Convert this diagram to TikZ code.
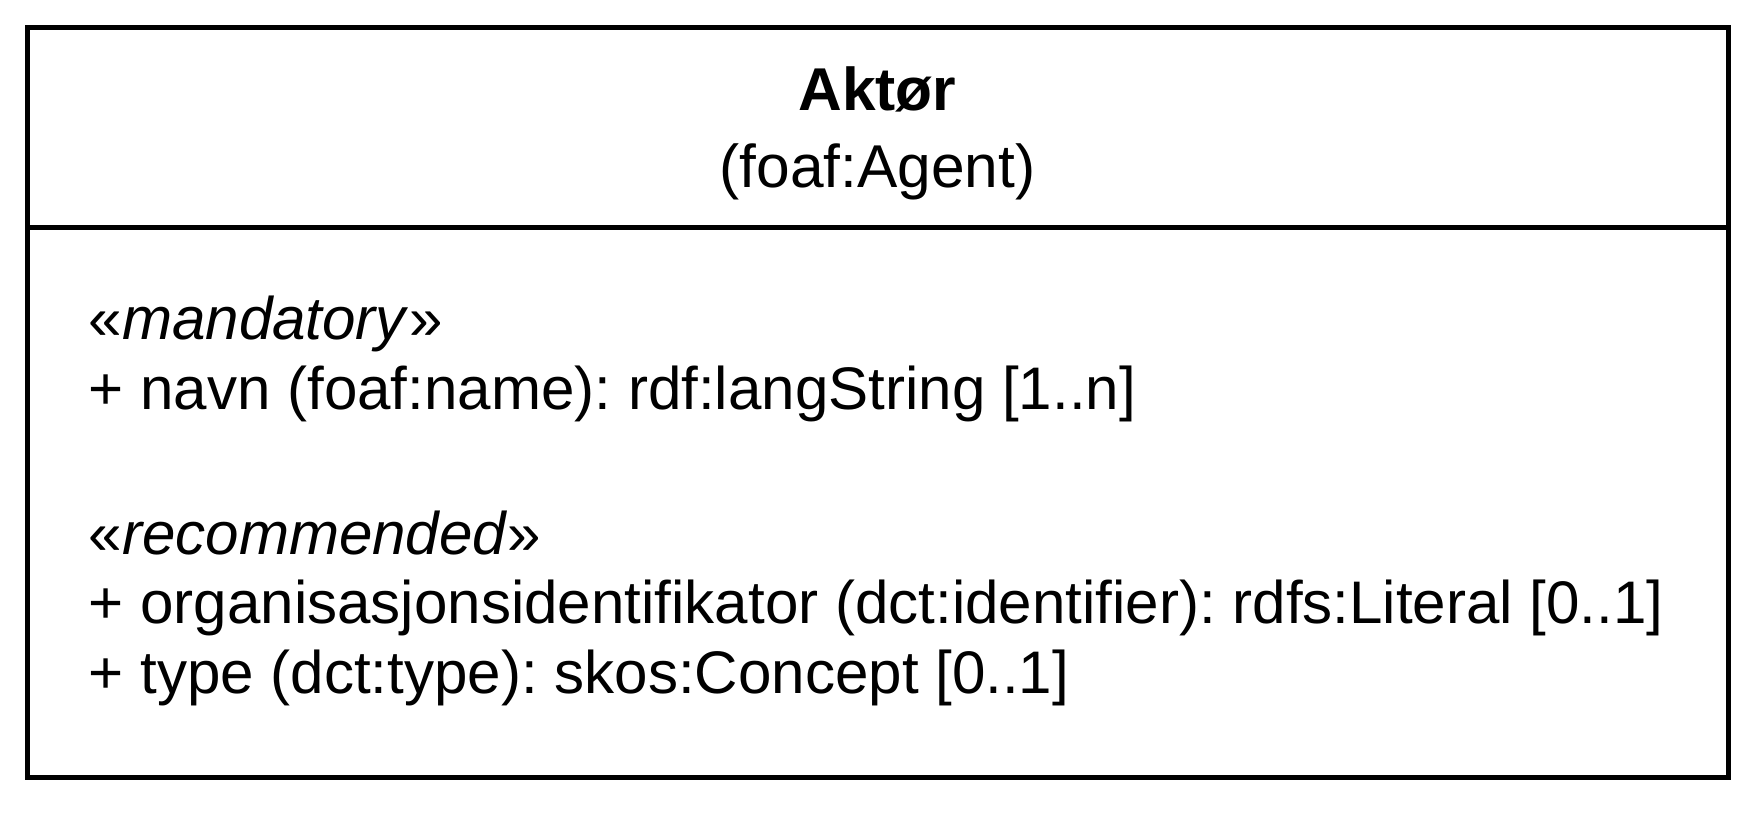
\documentclass[tikz,border=0pt]{standalone}
\usepackage{fontspec}
\setmainfont{Liberation Sans}
\usetikzlibrary{positioning}
\frenchspacing

\begin{document}
\begin{tikzpicture}[x=0.1mm,y=-0.1mm,
	klasse/.style={draw,line width=0.5mm},
	tittel/.style={anchor=base,inner sep=0pt,font=\fontsize{17.2pt}{20pt}\selectfont},
	attr/.style={anchor=base west,inner sep=0pt,font=\fontsize{17.1pt}{20pt}\selectfont}]
	\useasboundingbox (0,0) rectangle (1755,830);
	
	\coordinate (nw) at (27,27);
	\coordinate (se) at (1728,777);
	\coordinate (skille_v) at (27,227.5);
	\coordinate (skille_h) at (1728,227.5);
	\draw[klasse] (nw) rectangle (se);
	\draw[klasse] (skille_v) -- (skille_h);
	
	\node[tittel] (navn)   at (877.5,110) {\textbf{Aktør}};
	\node[tittel] (uri)    at (877.5,187) {(foaf:Agent)};
	
	\node[attr] (mandatory)   at (88,339) {«\textit{mandatory}»};
	\node[attr] (a_navn)      at (88,409) {+ navn (foaf:name): rdf:langString [1..n]};
	\node[attr] (recommended) at (88,554) {«\textit{recommended}»};
	\node[attr] (a_orgid)     at (88,623) {+ organisasjonsidentifikator (dct:identifier): rdfs:Literal [0..1]};
	\node[attr] (a_type)      at (88,693) {+ type (dct:type): skos:Concept [0..1]};
\end{tikzpicture}
\end{document}
